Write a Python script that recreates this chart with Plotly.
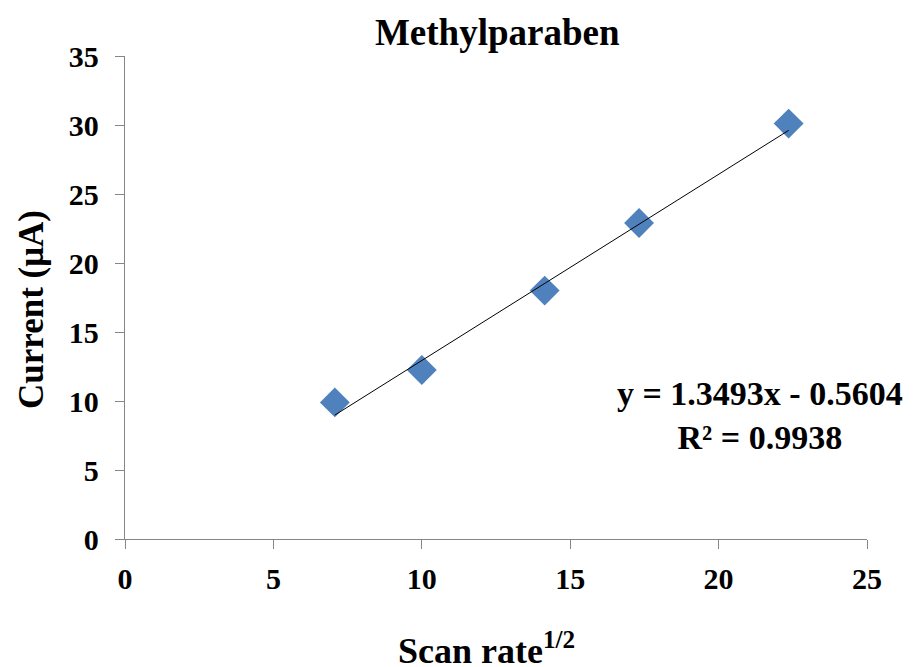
import plotly.graph_objects as go

# Data
scan_rate_sqrt = [7.07, 10.0, 14.14, 17.32, 22.36]
current_uA = [9.9, 12.25, 18.0, 22.9, 30.1]
slope = 1.3493
intercept = -0.5604
r_squared = 0.9938

x_ticks = [0, 5, 10, 15, 20, 25]
y_ticks = [0, 5, 10, 15, 20, 25, 30, 35]

fit_x = [min(scan_rate_sqrt), max(scan_rate_sqrt)]
fit_y = [slope * v + intercept for v in fit_x]

font_family = "Liberation Serif, Times New Roman, serif"

# the page body adds an 8px offset; work in figure pixels
OFF = 8
W, H = 913 - OFF, 667 - OFF
L, T = 125 - OFF, 56 - OFF
R = W - (867 - OFF)
B = H - (539 - OFF)
pw, ph = W - L - R, H - T - B


def px_x(px):
    return (px - OFF - L) / pw


def px_y(py):
    return (H - B - (py - OFF)) / ph


fig = go.Figure()
fig.add_trace(go.Scatter(
    x=scan_rate_sqrt, y=current_uA, mode="markers",
    marker=dict(symbol="diamond", size=23, color="#4F81BD",
                line=dict(width=0)),
    showlegend=False))
fig.add_trace(go.Scatter(
    x=fit_x, y=fit_y, mode="lines",
    line=dict(color="black", width=1),
    showlegend=False))

axis_common = dict(
    showgrid=False, zeroline=False, showline=True, automargin=False,
    linecolor="#868686", linewidth=1.3,
    ticks="outside", ticklen=9, tickcolor="#868686", tickwidth=1.3,
    tickfont=dict(family=font_family, size=30, color="black", weight="bold"),
    layer="below traces",
)

fig.update_layout(
    width=W, height=H,
    paper_bgcolor="white", plot_bgcolor="white",
    margin=dict(l=L, r=R, t=T, b=B, autoexpand=False),
    title=dict(text="<b>Methylparaben</b>", x=(462 - OFF) / W, xref="paper",
               xanchor="center", y=1 - (32 - OFF) / H, yanchor="middle",
               font=dict(family=font_family, size=37, color="black"),
               automargin=False),
    xaxis=dict(range=[0, 25], tickvals=x_ticks, ticklabelstandoff=4,
               **axis_common),
    yaxis=dict(range=[0, 35], tickvals=y_ticks, ticklabelstandoff=10,
               **axis_common),
)

# axis titles
fig.add_annotation(
    xref="paper", yref="paper", x=px_x(31), y=px_y(310),
    xanchor="center", yanchor="middle", showarrow=False, textangle=-90,
    text="<b>Current (μA)</b>",
    font=dict(family=font_family, size=35, color="black"),
)
fig.add_annotation(
    xref="paper", yref="paper", x=px_x(486), y=px_y(648),
    xanchor="center", yanchor="middle", showarrow=False,
    text="<b>Scan rate<sup>1/2</sup></b>",
    font=dict(family=font_family, size=36, color="black"),
)

# trendline equation
fig.add_annotation(
    xref="paper", yref="paper", x=px_x(760), y=px_y(415),
    xanchor="center", yanchor="middle", showarrow=False, align="center",
    text=f"<b>y = {slope}x - {abs(intercept)}<br>R² = {r_squared}</b>",
    font=dict(family=font_family, size=34, color="black"),
)

fig.write_html("out.html")
